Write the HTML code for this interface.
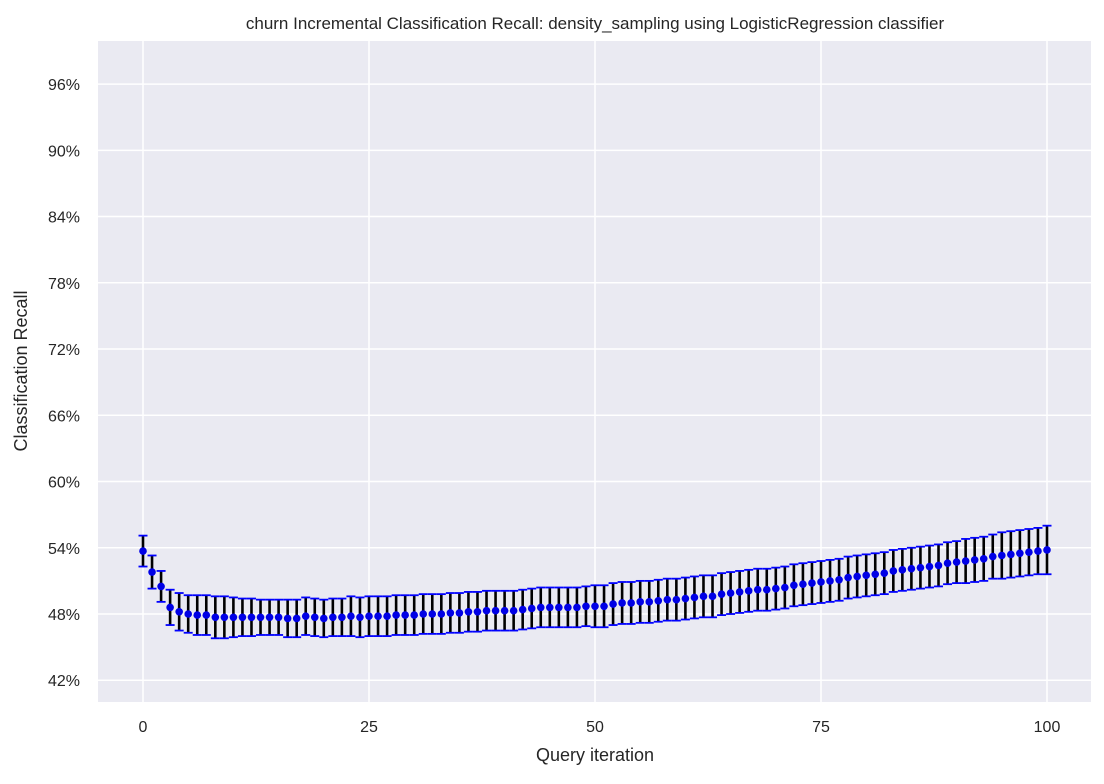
<!DOCTYPE html>
<html><head><meta charset="utf-8"><style>
body{margin:0;background:#fff;}
svg text{font-family:"Liberation Sans",Arial,sans-serif;fill:#262626;}
</style></head><body>
<svg id="chart" width="1104" height="779">
<rect x="98" y="41" width="993" height="661" fill="#eaeaf2"/>
<g id="grid"></g><g id="marks"></g><g id="ticks"></g>
<text x="595" y="29" font-size="17" text-anchor="middle">churn Incremental Classification Recall: density_sampling using LogisticRegression classifier</text>
<text x="595" y="761" font-size="18" text-anchor="middle">Query iteration</text>
<text transform="translate(27,371) rotate(-90)" font-size="18" text-anchor="middle">Classification Recall</text>
</svg>
<script>
const iterations = Array.from({length:101},(_,i)=>i);
const meanRecall = [53.7,51.8,50.5,48.6,48.2,48.0,47.9,47.9,47.7,47.7,47.7,47.7,47.7,47.7,47.7,47.7,47.6,47.6,47.8,47.7,47.6,47.7,47.7,47.8,47.7,47.8,47.8,47.8,47.9,47.9,47.9,48.0,48.0,48.0,48.1,48.1,48.2,48.2,48.3,48.3,48.3,48.3,48.4,48.5,48.6,48.6,48.6,48.6,48.6,48.7,48.7,48.7,48.9,49.0,49.0,49.1,49.1,49.2,49.3,49.3,49.4,49.5,49.6,49.6,49.8,49.9,50.0,50.1,50.2,50.2,50.3,50.4,50.6,50.7,50.8,50.9,51.0,51.1,51.3,51.4,51.5,51.6,51.7,51.9,52.0,52.1,52.2,52.3,52.4,52.6,52.7,52.8,52.9,53.0,53.2,53.3,53.4,53.5,53.6,53.7,53.8];
const errRecall = [1.4,1.5,1.4,1.6,1.7,1.7,1.8,1.8,1.9,1.9,1.8,1.7,1.7,1.6,1.6,1.6,1.7,1.7,1.7,1.7,1.7,1.7,1.7,1.8,1.8,1.8,1.8,1.8,1.8,1.8,1.8,1.8,1.8,1.8,1.8,1.8,1.8,1.8,1.8,1.8,1.8,1.8,1.8,1.8,1.8,1.8,1.8,1.8,1.8,1.8,1.9,1.9,1.9,1.9,1.9,1.9,1.9,1.9,1.9,1.9,1.9,1.9,1.9,1.9,1.9,1.9,1.9,1.9,1.9,1.9,1.9,1.9,1.9,1.9,1.9,1.9,1.9,1.9,1.9,1.9,1.9,1.9,1.9,1.9,1.9,1.9,1.9,1.9,1.9,1.9,1.9,2.0,2.0,2.0,2.0,2.1,2.1,2.1,2.1,2.1,2.2];
const xTicks = [0,25,50,75,100];
const yTicks = [42,48,54,60,66,72,78,84,90,96];
const NS='http://www.w3.org/2000/svg';
function xs(v){return 143+v*9.04;}
function ys(v){return 614-(v-48)*11.04;}
function mk(tag,attrs,parent){const e=document.createElementNS(NS,tag);for(const k in attrs)e.setAttribute(k,attrs[k]);parent.appendChild(e);return e;}
const grid=document.getElementById('grid'),marks=document.getElementById('marks'),ticks=document.getElementById('ticks');
xTicks.forEach(t=>{
  const l=mk('line',{x1:xs(t),x2:xs(t),y1:41,y2:702,stroke:'#fff','stroke-width':1.5},grid);
  
  
  const tx=mk('text',{x:xs(t),y:732,'font-size':16,'text-anchor':'middle'},ticks);
  tx.textContent=t;
  
  
});
yTicks.forEach(t=>{
  const l=mk('line',{x1:98,x2:1091,y1:ys(t),y2:ys(t),stroke:'#fff','stroke-width':1.5},grid);
  
  
  const tx=mk('text',{x:80,y:ys(t)+6,'font-size':16,'text-anchor':'end'},ticks);
  tx.textContent=t+'%';
  
  
});
iterations.forEach((it,i)=>{
  const x=xs(it),m=meanRecall[i],e=errRecall[i];
  const v=mk('line',{x1:x,x2:x,y1:ys(m+e),y2:ys(m-e),stroke:'#000','stroke-width':2.6},marks);
  
  
  [m+e,m-e].forEach(c=>{
    const cap=mk('line',{x1:x-4.5,x2:x+4.5,y1:ys(c),y2:ys(c),stroke:'#0000ff','stroke-width':1.8},marks);
    
    
  });
});
iterations.forEach((it,i)=>{
  const c=mk('circle',{cx:xs(it),cy:ys(meanRecall[i]),r:3.8,fill:'#0000e6'},marks);
  
  
});
</script>
</body></html>
